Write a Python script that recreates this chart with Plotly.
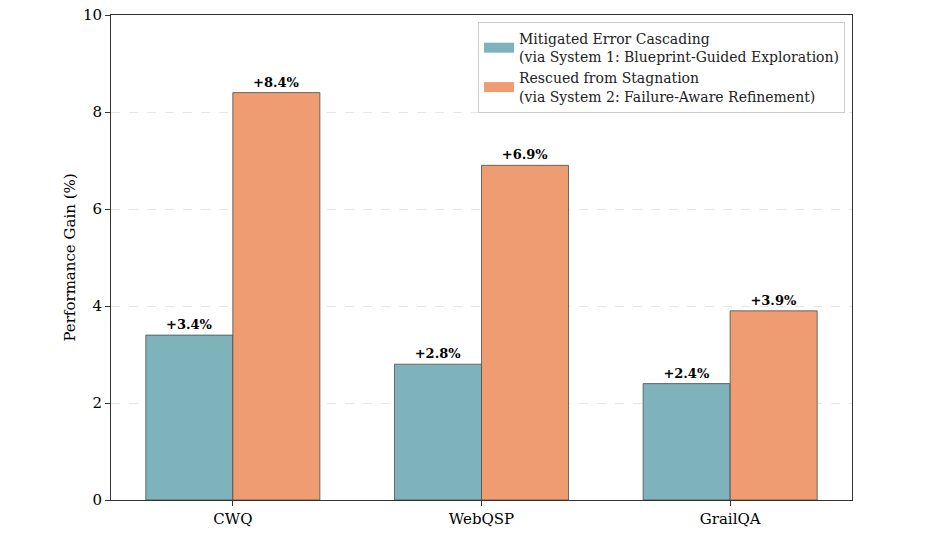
import plotly.graph_objects as go

categories = ["CWQ", "WebQSP", "GrailQA"]
mitigated = [3.4, 2.8, 2.4]
rescued = [8.4, 6.9, 3.9]
series_names = [
    "Mitigated Error Cascading<br>(via System 1: Blueprint-Guided Exploration)",
    "Rescued from Stagnation<br>(via System 2: Failure-Aware Refinement)",
]
y_ticks = [0, 2, 4, 6, 8, 10]

FONT = "DejaVu Serif"
teal = "#7FB3BC"
orange = "#F09C72"
edge = "#4d4d4d"

fig = go.Figure()
for vals, name, col in [(mitigated, series_names[0], teal), (rescued, series_names[1], orange)]:
    fig.add_trace(go.Bar(
        x=categories, y=vals, name=name, showlegend=False,
        marker=dict(color=col, line=dict(color=edge, width=0.8)),
        text=[f"+{v:.1f}%" for v in vals],
        textposition="outside",
        textfont=dict(family=FONT, size=13, color="black", weight="bold"),
        cliponaxis=False,
    ))
# legend-only entries (wide rectangular swatches)
for name, col in [(series_names[0], teal), (series_names[1], orange)]:
    fig.add_trace(go.Scatter(
        x=[None], y=[None], mode="lines", name=name,
        line=dict(color=col, width=10), showlegend=True,
    ))

fig.update_layout(
    width=947, height=533,
    margin=dict(l=111, r=95, t=15, b=33, autoexpand=False),
    paper_bgcolor="white", plot_bgcolor="white",
    barmode="group", bargap=0.3, bargroupgap=0,
    font=dict(family=FONT, size=15, color="black"),
    showlegend=True,
    legend=dict(
        x=0.9906, y=0.9856, xanchor="right", yanchor="top",
        bordercolor="#cccccc", borderwidth=1, bgcolor="rgba(255,255,255,0.8)",
        font=dict(family=FONT, size=14, color="#222"),
        tracegroupgap=0,
    ),
)
fig.update_xaxes(
    range=[-0.49, 2.49], showline=True, linecolor="#333", linewidth=1, mirror=True,
    ticks="outside", ticklen=5, tickcolor="#333", showgrid=False,
    tickfont=dict(family=FONT, size=15), automargin=False,
)
fig.update_yaxes(
    range=[0, 10], tickvals=y_ticks, showline=True, linecolor="#333", linewidth=1, mirror=True,
    ticks="outside", ticklen=5, tickcolor="#333",
    showgrid=True, gridcolor="#e6e6e6", griddash="dash", gridwidth=1,
    zeroline=False, automargin=False,
    title=dict(text="Performance Gain (%)", font=dict(family=FONT, size=15), standoff=3),
    tickfont=dict(family=FONT, size=15),
)
fig.write_html("out.html", config={"displayModeBar": False},
               post_script="document.body.style.margin='0';")
